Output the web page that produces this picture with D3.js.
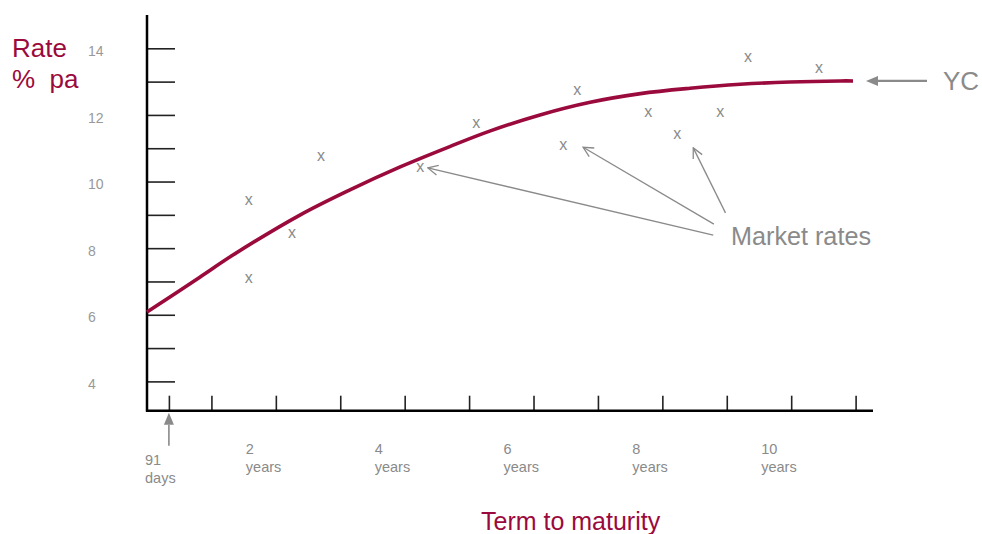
<!DOCTYPE html>
<html>
<head>
<meta charset="utf-8">
<script src="https://cdn.jsdelivr.net/npm/d3@7"></script>
<style>
  html, body { margin: 0; padding: 0; background: #fff; }
  svg { display: block; font-family: "Liberation Sans", Arial, sans-serif; }
</style>
</head>
<body>
<svg id="chart" width="982" height="534"></svg>
<script>
// ---- data (years to maturity, rate % pa) ----
const curveYears = [0, 0.82, 1.34, 2.38, 3.15, 3.93, 4.70, 5.33, 6.10, 6.88, 7.66, 8.43, 9.21, 9.98, 10.76, 10.96];
const curveRates = [6.08, 7.13, 7.80, 9.00, 9.75, 10.44, 11.05, 11.52, 12.00, 12.38, 12.64, 12.80, 12.92, 12.99, 13.02, 13.02];

const marketYears = [1.58, 1.58, 2.25, 2.70, 4.24, 5.11, 6.46, 6.68, 7.78, 8.23, 8.90, 9.33, 10.43];
const marketRates = [9.45, 7.13, 8.46, 10.77, 10.44, 11.76, 11.10, 12.75, 12.09, 11.43, 12.09, 13.74, 13.41];

const yTickValues = [4, 5, 6, 7, 8, 9, 10, 11, 12, 13, 14];
const yTickLabels = ["4", "", "6", "", "8", "", "10", "", "12", "", "14"];

const xTickValues = [0.34, 1, 2, 3, 4, 5, 6, 7, 8, 9, 10, 11];
const xLabelYears = [2, 4, 6, 8, 10];
const ninetyOneDays = 0.34;

// annotation arrows: [fromYear, fromRate, toYear, toRate]
const marketArrows = [
  [8.79, 8.39, 4.36, 10.41],
  [8.80, 8.72, 6.77, 11.03],
  [8.98, 9.06, 8.48, 11.01]
];

// ---- layout ----
const crimson = "#9b0a3c";
const grey = "#8a8a8a";
const svg = d3.select("#chart");

const x = d3.scaleLinear().domain([0, 11.27]).range([147, 873]);
const y = d3.scaleLinear().domain([3.12, 15.0]).range([410.7, 15]);
const axisY = y.range()[0];
const axisX = x.range()[0];

const defs = svg.append("defs");
defs.append("marker").attr("id", "openHead")
  .attr("viewBox", "0 0 12 12").attr("refX", 11).attr("refY", 6)
  .attr("markerWidth", 12).attr("markerHeight", 12).attr("markerUnits", "userSpaceOnUse")
  .attr("orient", "auto")
  .append("path").attr("d", "M1,1 L11,6 L1,11").attr("fill", "none")
  .attr("stroke", grey).attr("stroke-width", 1.3);
defs.append("marker").attr("id", "solidHead")
  .attr("viewBox", "0 0 12 12").attr("refX", 0).attr("refY", 6)
  .attr("markerWidth", 12).attr("markerHeight", 12).attr("markerUnits", "userSpaceOnUse")
  .attr("orient", "auto")
  .append("path").attr("d", "M0,1 L12,6 L0,11 Z").attr("fill", grey);

// y axis ticks (extend to the right of the axis)
const yAxis = d3.axisRight(y).tickValues(yTickValues).tickSize(28).tickFormat("");
const gy = svg.append("g").attr("transform", `translate(${axisX},0)`).call(yAxis);
gy.select(".domain").remove();
gy.selectAll(".tick line").attr("stroke", "#222").attr("stroke-width", 1.6);

// y tick labels (left aligned)
svg.append("g").selectAll("text")
  .data(yTickValues.map((v, i) => ({ v, t: yTickLabels[i] })).filter(d => d.t))
  .join("text")
  .attr("x", 88).attr("y", d => y(d.v) + 4)
  .attr("dominant-baseline", "middle")
  .attr("font-size", 14).attr("fill", "#999")
  .text(d => d.t);

// x axis ticks (upwards)
const xAxis = d3.axisTop(x).tickValues(xTickValues).tickSize(15).tickFormat("");
const gx = svg.append("g").attr("transform", `translate(0,${axisY})`).call(xAxis);
gx.select(".domain").remove();
gx.selectAll(".tick line").attr("stroke", "#222").attr("stroke-width", 1.6);

// axis lines
svg.append("line").attr("x1", axisX).attr("x2", axisX).attr("y1", y.range()[1]).attr("y2", axisY + 1)
  .attr("stroke", "#000").attr("stroke-width", 2.5);
svg.append("line").attr("x1", axisX - 1).attr("x2", x.range()[1]).attr("y1", axisY).attr("y2", axisY)
  .attr("stroke", "#000").attr("stroke-width", 2.5);

// x labels
const xl = svg.append("g").selectAll("text").data(xLabelYears).join("text")
  .attr("font-size", 14.5).attr("fill", grey);
xl.append("tspan").attr("x", d => x(d) - 30).attr("y", 454).text(d => d);
xl.append("tspan").attr("x", d => x(d) - 30).attr("y", 472).text("years");

const nd = svg.append("text").attr("font-size", 14.5).attr("fill", grey);
nd.append("tspan").attr("x", 145).attr("y", 465).text("91");
nd.append("tspan").attr("x", 145).attr("y", 483).text("days");
svg.append("line")
  .attr("x1", x(ninetyOneDays)).attr("x2", x(ninetyOneDays))
  .attr("y1", axisY + 35).attr("y2", axisY + 14)
  .attr("stroke", grey).attr("stroke-width", 1.6)
  .attr("marker-end", "url(#solidHead)");

// curve
const curveData = curveYears.map((v, i) => [v, curveRates[i]]);
svg.append("path").datum(curveData)
  .attr("d", d3.line().x(d => x(d[0])).y(d => y(d[1])).curve(d3.curveCatmullRom.alpha(0.5)))
  .attr("fill", "none").attr("stroke", crimson).attr("stroke-width", 3.6);

// market rate marks
svg.append("g").selectAll("text")
  .data(marketYears.map((v, i) => [v, marketRates[i]]))
  .join("text")
  .attr("x", d => x(d[0])).attr("y", d => y(d[1]))
  .attr("text-anchor", "middle").attr("dominant-baseline", "central")
  .attr("font-size", 16).attr("fill", grey)
  .text("x");

// market arrows
svg.append("g").selectAll("line").data(marketArrows).join("line")
  .attr("x1", d => x(d[0])).attr("y1", d => y(d[1]))
  .attr("x2", d => x(d[2])).attr("y2", d => y(d[3]))
  .attr("stroke", grey).attr("stroke-width", 1.3)
  .attr("marker-end", "url(#openHead)");

svg.append("text").attr("x", 731).attr("y", 245)
  .attr("font-size", 25.5).attr("fill", grey)
  .attr("textLength", 140).attr("lengthAdjust", "spacingAndGlyphs")
  .text("Market rates");

// YC annotation
const ycRate = curveRates[curveRates.length - 1];
svg.append("line")
  .attr("x1", 927).attr("x2", 878)
  .attr("y1", y(ycRate)).attr("y2", y(ycRate))
  .attr("stroke", grey).attr("stroke-width", 2.2)
  .attr("marker-end", "url(#solidHead)");
svg.append("text").attr("x", 943).attr("y", y(ycRate) + 9)
  .attr("font-size", 26).attr("fill", grey).text("YC");

// axis titles
const yt = svg.append("text").attr("font-size", 26).attr("fill", crimson);
yt.append("tspan").attr("x", 12).attr("y", 57).text("Rate");
yt.append("tspan").attr("x", 12).attr("y", 88).attr("xml:space", "preserve").text("%  pa");

svg.append("text").attr("x", 481).attr("y", 530)
  .attr("font-size", 25).attr("fill", crimson).text("Term to maturity");
</script>
</body>
</html>
